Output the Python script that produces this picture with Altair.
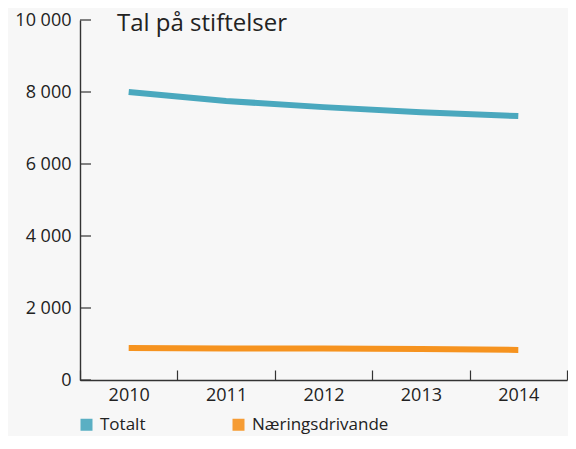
import altair as alt
import pandas as pd

years = ["2010", "2011", "2012", "2013", "2014"]
totalt = [8000, 7750, 7580, 7440, 7330]
naering = [890, 875, 875, 860, 835]
series = ["Totalt", "Næringsdrivande"]
colors = ["#4aa8be", "#f6931f"]
y_ticks = [0, 2000, 4000, 6000, 8000, 10000]
title_text = ["Tal på stiftelser"]

rows = []
for s, vals in zip(series, [totalt, naering]):
    for yr, v in zip(years, vals):
        rows.append({"year": yr, "value": v, "series": s})
df = pd.DataFrame(rows)

FONT = "Open Sans"
AX = "#333333"
W, H = 487, 360

yscale = alt.Scale(domain=[0, 10000], nice=False)

lines = alt.Chart(df).mark_line(strokeWidth=6, strokeCap="butt").encode(
    x=alt.X("year:N", sort=years, title=None,
            scale=alt.Scale(type="band", paddingInner=0, paddingOuter=0),
            axis=alt.Axis(labelAngle=0, tickBand="extent", ticks=False, tickSize=0,
                          grid=True, gridDash=[0, H - 10, 10, 2000], gridColor=AX,
                          gridWidth=1.2, domainColor=AX, domainWidth=1.4,
                          labelFont=FONT, labelFontSize=18, labelColor="#222",
                          labelPadding=6)),
    y=alt.Y("value:Q", title=None, scale=yscale,
            axis=alt.Axis(values=y_ticks, ticks=False, tickSize=0, grid=False,
                          domainColor=AX, domainWidth=1.4, labelFont=FONT,
                          labelFontSize=18, labelColor="#222", labelPadding=9,
                          labelExpr="replace(format(datum.value, ','), ',', ' ')")),
    color=alt.Color("series:N", sort=series,
                    scale=alt.Scale(domain=series, range=colors),
                    legend=alt.Legend(orient="none", legendX=-2, legendY=396,
                                      direction="horizontal", title=None,
                                      symbolType="square", symbolSize=36,
                                      symbolStrokeWidth=6, symbolOpacity=0.9,
                                      labelFont=FONT, labelFontSize=17,
                                      labelColor="#222", labelOffset=5,
                                      columnPadding=77)),
)

yticks = alt.Chart(pd.DataFrame({"v": y_ticks})).mark_rule(
    color=AX, strokeWidth=1.2
).encode(y=alt.Y("v:Q", scale=yscale), x=alt.value(0), x2=alt.value(11))

title = alt.Chart(pd.DataFrame({"t": title_text})).mark_text(
    align="left", baseline="alphabetic", font=FONT, fontSize=24, color="#222"
).encode(x=alt.value(37), y=alt.value(11), text="t:N")

chart = alt.layer(lines, yticks, title).properties(
    width=W, height=H,
    autosize=alt.AutoSizeParams(type="none"),
    padding={"left": 72, "top": 12, "right": 1, "bottom": 56},
    background="#f7f7f7",
).configure_view(stroke=None)

chart.save("out.html", embed_options={"renderer": "svg", "actions": False})
